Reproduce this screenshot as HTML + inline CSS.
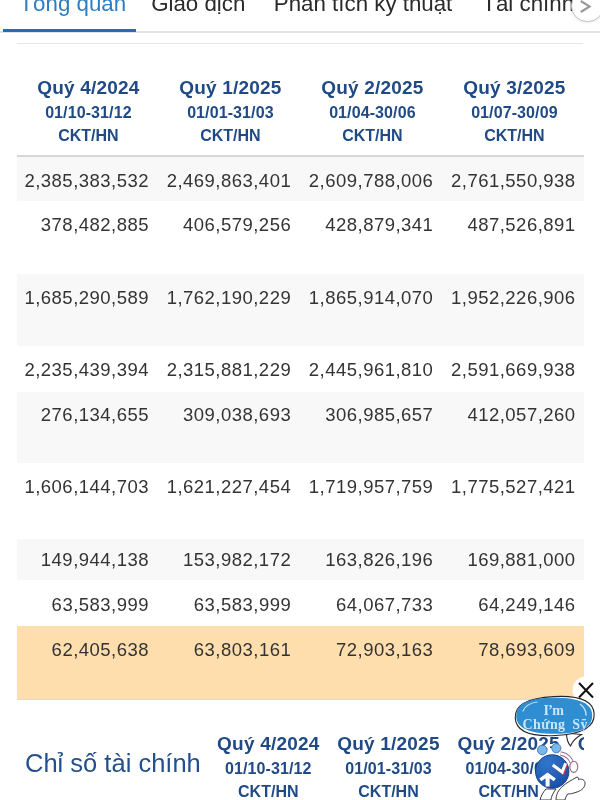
<!DOCTYPE html>
<html lang="vi">
<head>
<meta charset="utf-8">
<title>Tài chính</title>
<style>
html,body{margin:0;padding:0;}
body{width:600px;height:800px;overflow:hidden;background:#fff;position:relative;
  font-family:"Liberation Sans",sans-serif;color:#333;}
.abs{position:absolute;}
/* tabs */
.tabs{position:absolute;left:2.5px;top:-8.7px;height:40.5px;width:700px;white-space:nowrap;font-size:22.3px;line-height:26px;color:#2a2a2a;}
.tab{display:inline-block;padding:0 15px;height:40.5px;box-sizing:border-box;}
.tab.on{color:#2e7dc0;border-bottom:3.5px solid #1e6dc0;padding-left:17px;padding-right:10px;}
.tabline{position:absolute;left:0;top:31px;width:600px;height:2px;background:#e3e3e3;}
.line2{position:absolute;left:17px;top:42.5px;width:566px;height:1.5px;background:#e4e7ec;}
.more{position:absolute;left:571px;top:-10.5px;width:32.5px;height:32.5px;border-radius:50%;background:#fff;border:1.5px solid #c4c4c4;box-sizing:border-box;box-shadow:0 0 3px rgba(0,0,0,.15);}
/* header */
.hd{position:absolute;text-align:center;color:#1f4a86;font-weight:bold;}
.hd .l1{position:relative;top:-1px;font-size:19px;line-height:27.8px;letter-spacing:.2px;}
.hd .l2{font-size:16px;line-height:20.6px;letter-spacing:.1px;}
.hd .l3{font-size:16px;line-height:23px;}
.hline{position:absolute;left:16.5px;top:155px;width:567px;height:2px;background:#d6d6d6;}
/* rows */
.row{position:absolute;left:16.5px;width:567.5px;box-sizing:border-box;overflow:hidden;}
.row.g{background:#f8f8f8;}
.row.o{background:#ffdead;border-bottom:1.6px solid #e3d9c8;}
.row span{position:absolute;width:132.5px;text-align:right;font-size:18.5px;line-height:22px;letter-spacing:.48px;color:#333;}
.c1{left:0;}.c2{left:142.2px;}.c3{left:284.4px;}.c4{left:426.6px;}
.title{position:absolute;left:25px;top:746px;font-size:25.5px;line-height:34px;color:#23508c;white-space:nowrap;}
.clip{position:absolute;left:0;top:700px;width:583.5px;height:100px;overflow:hidden;}
.clip .hd{margin-top:-700px;}
.mascot{position:absolute;left:500px;top:670px;}
</style>
</head>
<body>
<div class="tabline"></div>
<div class="tabs"><div class="tab on">Tổng quan</div><div class="tab" style="padding-right:13.5px">Giao dịch</div><div class="tab">Phân tích kỹ thuật</div><div class="tab">Tài chính</div></div>
<div class="more"><svg width="33" height="33" viewBox="571 -10.5 33 33" style="position:absolute;left:-1.5px;top:-1.5px"><path d="M580.8 1.5 L589.6 7 L580.8 12.5" fill="none" stroke="#999" stroke-width="2.1"/></svg></div>
<div class="line2"></div>

<div class="hd" style="left:17.4px;top:75.2px;width:142px"><div class="l1">Quý 4/2024</div><div class="l2">01/10-31/12</div><div class="l3">CKT/HN</div></div>
<div class="hd" style="left:159.4px;top:75.2px;width:142px"><div class="l1">Quý 1/2025</div><div class="l2">01/01-31/03</div><div class="l3">CKT/HN</div></div>
<div class="hd" style="left:301.4px;top:75.2px;width:142px"><div class="l1">Quý 2/2025</div><div class="l2">01/04-30/06</div><div class="l3">CKT/HN</div></div>
<div class="hd" style="left:443.4px;top:75.2px;width:142px"><div class="l1">Quý 3/2025</div><div class="l2">01/07-30/09</div><div class="l3">CKT/HN</div></div>
<div class="hline"></div>

<div class="row g" style="top:157.0px;height:43.5px;padding-top:12.8px"><span class="c1">2,385,383,532</span><span class="c2">2,469,863,401</span><span class="c3">2,609,788,006</span><span class="c4">2,761,550,938</span></div>
<div class="row" style="top:200.5px;height:73.8px;padding-top:13.8px"><span class="c1">378,482,885</span><span class="c2">406,579,256</span><span class="c3">428,879,341</span><span class="c4">487,526,891</span></div>
<div class="row g" style="top:274.3px;height:71.7px;padding-top:12.7px"><span class="c1">1,685,290,589</span><span class="c2">1,762,190,229</span><span class="c3">1,865,914,070</span><span class="c4">1,952,226,906</span></div>
<div class="row" style="top:346.0px;height:45.7px;padding-top:12.8px"><span class="c1">2,235,439,394</span><span class="c2">2,315,881,229</span><span class="c3">2,445,961,810</span><span class="c4">2,591,669,938</span></div>
<div class="row g" style="top:391.7px;height:71.6px;padding-top:11.9px"><span class="c1">276,134,655</span><span class="c2">309,038,693</span><span class="c3">306,985,657</span><span class="c4">412,057,260</span></div>
<div class="row" style="top:463.3px;height:75.4px;padding-top:12.8px"><span class="c1">1,606,144,703</span><span class="c2">1,621,227,454</span><span class="c3">1,719,957,759</span><span class="c4">1,775,527,421</span></div>
<div class="row g" style="top:538.7px;height:41.6px;padding-top:10.8px"><span class="c1">149,944,138</span><span class="c2">153,982,172</span><span class="c3">163,826,196</span><span class="c4">169,881,000</span></div>
<div class="row" style="top:580.3px;height:45.5px;padding-top:14.2px"><span class="c1">63,583,999</span><span class="c2">63,583,999</span><span class="c3">64,067,733</span><span class="c4">64,249,146</span></div>
<div class="row o" style="top:625.8px;height:73.9px;padding-top:12.8px"><span class="c1">62,405,638</span><span class="c2">63,803,161</span><span class="c3">72,903,163</span><span class="c4">78,693,609</span></div>

<div class="title">Chỉ số tài chính</div>
<div class="clip">
<div class="hd" style="left:208.2px;top:731.2px;width:120.2px"><div class="l1">Quý 4/2024</div><div class="l2">01/10-31/12</div><div class="l3">CKT/HN</div></div>
<div class="hd" style="left:328.4px;top:731.2px;width:120.2px"><div class="l1">Quý 1/2025</div><div class="l2">01/01-31/03</div><div class="l3">CKT/HN</div></div>
<div class="hd" style="left:448.6px;top:731.2px;width:120.2px"><div class="l1">Quý 2/2025</div><div class="l2">01/04-30/06</div><div class="l3">CKT/HN</div></div>
<div class="hd" style="left:568.8px;top:731.2px;width:120.2px"><div class="l1">Quý 3/2025</div><div class="l2">01/07-30/09</div><div class="l3">CKT/HN</div></div>
</div>

<svg class="mascot" width="100" height="130" viewBox="500 670 100 130">
  <circle cx="586" cy="690" r="13.5" fill="#fff"/>
  <path d="M579 683 L593 697.5 M593 683 L579 697.5" stroke="#111" stroke-width="2" fill="none"/>
  <!-- bubble -->
  <path d="M566.5 733 C566.5 739 568 743 570.5 746 C572.5 741 576 737.5 581.5 734.5 Z" fill="#fff" stroke="#26262e" stroke-width="1.1"/>
  <path d="M515.2 716.1 C515.2 702.8 527.8 696.6 554.7 696.6 C581.6 696.6 594.2 702.8 594.2 716.1 C594.2 729.4 581.6 735.6 554.7 735.6 C527.8 735.6 515.2 729.4 515.2 716.1Z" fill="#fff" stroke="#26262e" stroke-width="1.1" transform="rotate(-3 554 716)"/>
  <path d="M516.2 715.8 C516.2 703.6 528.4 697.8 554.2 697.8 C580.0 697.8 592.2 703.6 592.2 715.8 C592.2 728.0 580.0 733.8 554.2 733.8 C528.4 733.8 516.2 728.0 516.2 715.8Z" fill="#2f8ed2"/>
  <path d="M523 711 C525 706 530 703 537 702" fill="none" stroke="#bfe2fa" stroke-width="1.2" stroke-linecap="round"/>
  <path d="M580.5 704.5 C584 707 586 711 586 715" fill="none" stroke="#bfe2fa" stroke-width="1.4" stroke-linecap="round"/>
  <text x="543.5" y="714.5" textLength="20.5" lengthAdjust="spacing" font-family="'Liberation Serif',serif" font-weight="bold" font-size="14" fill="#c9e6f9">I’m</text>
  <text x="522.5" y="729.2" textLength="65" lengthAdjust="spacing" font-family="'Liberation Serif',serif" font-weight="bold" font-size="14" fill="#c9e6f9" word-spacing="3">Chứng Sỹ</text>
  <!-- body -->
  <path d="M540 800 C541 796 543 792 546 789 L556 789 C553 793 551 797 551 800 Z" fill="#fff" stroke="#3b3b46" stroke-width="1"/>
  <path d="M563 786 C566 783 572 780 576 777.5 C577.5 776.5 579 777.5 578.5 779.5 C581 778.5 584.5 779.5 585 782.5 C585.5 787 582 790.5 577 792 C573 793.5 570 794 567.5 794 C566 797 565 799 565 800 L556 800 C556 795 558 790 563 786 Z" fill="#fff" stroke="#3b3b46" stroke-width="1"/>
  <path d="M560.5 753.5 C567 754.5 571.5 759 572.5 765" fill="none" stroke="#8f6b86" stroke-width="4.4"/>
  <path d="M560.5 753.5 C567 754.5 571.5 759 572.5 765" fill="none" stroke="#fff" stroke-width="2.6"/>
  <ellipse cx="573.8" cy="766.8" rx="4" ry="5.6" fill="#fff" stroke="#8f6b86" stroke-width="1.1"/>
  <!-- ears -->
  <circle cx="542.3" cy="750" r="4.8" fill="#79b8e9" stroke="#3a76bd" stroke-width="0.9"/>
  <circle cx="556.3" cy="748.2" r="4.6" fill="#79b8e9" stroke="#3a76bd" stroke-width="0.9"/>
  <path d="M549.3 745 L550 748 L552.5 749 L550 750 L549.3 753 L548.6 750 L546.3 749 L548.6 748 Z" fill="#fff"/>
  <!-- head -->
  <defs><radialGradient id="hg" cx="0.35" cy="0.25" r="0.8"><stop offset="0" stop-color="#2f78cc"/><stop offset="1" stop-color="#1a4fa6"/></radialGradient></defs><circle cx="552.2" cy="771.5" r="16.7" fill="url(#hg)" stroke="#1c3f88" stroke-width="1"/>
  <path d="M552.8 765 L562.2 772 L565.6 763.2" fill="none" stroke="#d8343f" stroke-width="3" transform="translate(0.9 1.1)"/>
  <path d="M552.8 765 L562.2 772 L565.6 763.2" fill="none" stroke="#fff" stroke-width="3"/>
  <path d="M547.5 772.5 L539.3 778.6 L541.3 781.3 L545.6 778.3 L545.6 786.5 L549.6 786.5 L549.6 778.3 L553.8 781.3 L555.8 778.6 Z" fill="#fff"/>
</svg>
</body>
</html>
